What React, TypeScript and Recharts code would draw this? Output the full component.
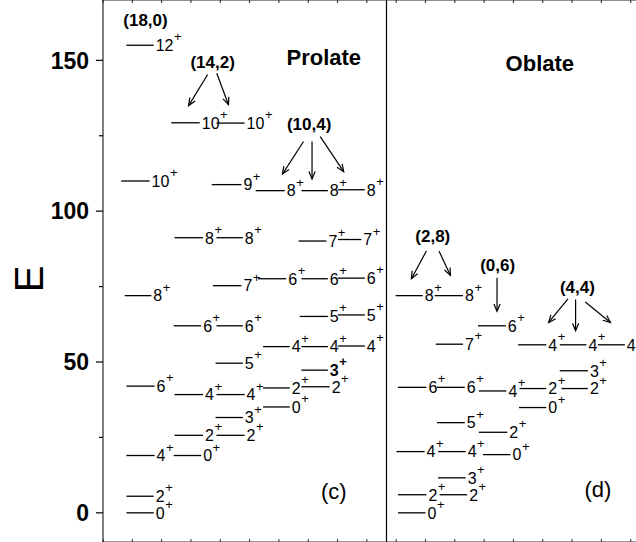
import React from 'react'
import { ScatterChart, Scatter, XAxis, YAxis, ReferenceLine } from 'recharts'

const FONT = '"Liberation Sans", Arial, Helvetica, sans-serif'

// levels: [line start, line end, E, spin]
// prolate (c)
const band180 = [
  [0.80, 1.73, 155, '12'],
  [0.62, 1.59, 110, '10'],
  [0.74, 1.65, 72, '8'],
  [0.80, 1.76, 42, '6'],
  [0.80, 1.76, 19, '4'],
  [0.80, 1.73, 5.5, '2'],
  [0.80, 1.73, 0, '0'],
]
const band142 = [
  [2.33, 3.30, 129.3, '10'],
  [3.87, 4.83, 129.2, '10'],
  [3.71, 4.72, 108.8, '9'],
  [2.44, 3.41, 91.2, '8'],
  [3.87, 4.77, 91.2, '8'],
  [3.75, 4.72, 75.3, '7'],
  [2.41, 3.35, 62, '6'],
  [3.87, 4.77, 62, '6'],
  [3.84, 4.77, 49.6, '5'],
  [2.44, 3.41, 39.2, '4'],
  [3.87, 4.83, 39.2, '4'],
  [3.84, 4.77, 31.6, '3'],
  [2.44, 3.41, 25.7, '2'],
  [3.87, 4.83, 25.7, '2'],
  [2.41, 3.35, 19, '0'],
]
const band104 = [
  [5.21, 6.20, 106.8, '8'],
  [6.77, 7.67, 106.8, '8'],
  [8.01, 8.93, 107.1, '8'],
  [6.67, 7.62, 90.1, '7'],
  [8.01, 8.81, 90.6, '7'],
  [5.29, 6.25, 77.6, '6'],
  [6.77, 7.67, 77.6, '6'],
  [8.01, 8.93, 77.8, '6'],
  [6.71, 7.67, 65.1, '5'],
  [8.01, 8.93, 65.6, '5'],
  [5.46, 6.37, 55.1, '4'],
  [6.77, 7.67, 55.1, '4'],
  [8.01, 8.93, 55.3, '4'],
  [6.77, 7.67, 47.3, '3'],
  [5.46, 6.37, 41.4, '2'],
  [6.77, 7.73, 41.8, '2'],
  [5.46, 6.37, 35.1, '0'],
]
// oblate (d)
const band28 = [
  [9.98, 10.91, 72, '8'],
  [11.31, 12.28, 72, '8'],
  [11.35, 12.28, 55.9, '7'],
  [10.06, 11.03, 41.6, '6'],
  [11.39, 12.34, 41.6, '6'],
  [11.39, 12.34, 29.9, '5'],
  [10.01, 10.97, 20.3, '4'],
  [11.43, 12.37, 20.3, '4'],
  [11.43, 12.37, 11.6, '3'],
  [10.06, 11.03, 6, '2'],
  [11.48, 12.42, 6, '2'],
  [10.06, 11.0, 0, '0'],
]
const band06 = [
  [12.79, 13.74, 62, '6'],
  [12.82, 13.76, 40.4, '4'],
  [12.82, 13.79, 26.7, '2'],
  [12.96, 13.9, 19.3, '0'],
]
const band44 = [
  [14.16, 15.12, 55.7, '4'],
  [15.58, 16.49, 55.7, '4'],
  [16.88, 17.8, 55.7, '4'],
  [15.58, 16.54, 47.1, '3'],
  [14.21, 15.12, 41.2, '2'],
  [15.64, 16.54, 41.2, '2'],
  [14.19, 15.12, 34.9, '0'],
]

// arrows: [x from, E from, x to, E to]
const arrows = [
  [3.57, 145.3, 2.92, 135],
  [3.88, 145.7, 4.28, 135.3],
  [6.84, 123.1, 6.12, 112.3],
  [7.13, 123.1, 7.13, 110.7],
  [7.41, 124.7, 8.21, 113.1],
  [11.03, 86.8, 10.52, 77.6],
  [11.46, 86.8, 11.85, 78.7],
  [13.44, 77.9, 13.44, 66.8],
  [15.86, 70.9, 15.2, 63.1],
  [16.12, 70.7, 16.12, 60.4],
  [16.45, 69.9, 17.31, 63.1],
]

const groupLabels = [
  [1.45, 163.4, '(18,0)'],
  [3.74, 149.6, '(14,2)'],
  [7.03, 129, '(10,4)'],
  [11.25, 91.8, '(2,8)'],
  [13.46, 82.3, '(0,6)'],
  [16.18, 74.9, '(4,4)'],
]
const panelTitles = [
  [7.53, 151, 'Prolate'],
  [14.9, 149, 'Oblate'],
]
const panelTags = [
  [7.87, 7.3, '(c)'],
  [16.88, 8, '(d)'],
]

const yTicks = [0, 25, 50, 75, 100, 125, 150]
const xTicks = Array.from({ length: 19 }, (_, i) => i)
const DIVIDER_X = 9.67

const allLevels = [...band180, ...band142, ...band104, ...band28, ...band06, ...band44].map((l, i) => ({
  id: i,
  x0: l[0] as number,
  x: l[1] as number,
  y: l[2] as number,
  j: l[3] as string,
  // the 3+ of the (10,4) band is printed in bold
  bold: l[3] === '3' && l[2] === 47.3,
}))

const toPoints = (rows: (string | number)[][]) => rows.map(r => ({ x: r[0] as number, y: r[1] as number, text: r[2] as string }))

const LevelLabel = (props: any) => {
  const { cx, cy, payload } = props
  return (
    <text x={cx + 2} y={cy} dy={5.8} fontSize={16} fontFamily={FONT}
      fontWeight={payload.bold ? 'bold' : 'normal'} fill="#000">
      {payload.j}
      <tspan dx={0.5} dy={-9.8} fontSize={13}>+</tspan>
    </text>
  )
}

const textShape = (size: number, weight: string) => (props: any) => (
  <text x={props.cx} y={props.cy} dy="0.36em" textAnchor="middle" fontSize={size}
    fontWeight={weight} fontFamily={FONT} fill="#000">
    {props.payload.text}
  </text>
)

const Arrow = (props: any) => {
  const { x1, y1, x2, y2 } = props
  const a = Math.atan2(y2 - y1, x2 - x1)
  const h = 8
  const s = 0.4
  return (
    <g>
      <line x1={x1} y1={y1} x2={x2} y2={y2} stroke="#000" strokeWidth={1.2} />
      <polyline
        points={`${x2 - h * Math.cos(a - s)},${y2 - h * Math.sin(a - s)} ${x2},${y2} ${x2 - h * Math.cos(a + s)},${y2 - h * Math.sin(a + s)}`}
        fill="none" stroke="#000" strokeWidth={1.2} />
    </g>
  )
}

const YTick = (props: any) => {
  const { x, y, payload } = props
  const major = payload.value % 50 === 0
  const axisX = x + 14
  return (
    <g>
      <line x1={axisX - (major ? 7 : 4)} x2={axisX} y1={y} y2={y} stroke="#000" strokeWidth={1.2} />
      {major && (
        <text x={x} y={y} dy="0.36em" textAnchor="end" fontSize={23} fontWeight="bold" fontFamily={FONT} fill="#000">
          {payload.value}
        </text>
      )}
    </g>
  )
}

export default function App() {
  return (
    <div style={{ position: 'absolute', left: 0, top: 0, width: 636, height: 542, background: '#fff' }}>
      <ScatterChart width={636} height={542} margin={{ top: 0, right: 0, bottom: 0, left: 0 }}>
        <XAxis type="number" dataKey="x" domain={[0, 18.18]} ticks={xTicks} allowDataOverflow
          height={1} mirror tickSize={3} tickFormatter={() => ''} stroke="#333" />
        <XAxis xAxisId="top" orientation="top" type="number" dataKey="x" domain={[0, 18.18]} ticks={xTicks}
          allowDataOverflow height={2} mirror tickSize={3} tickFormatter={() => ''} stroke="#222" />
        <YAxis type="number" dataKey="y" domain={[-9.67, 170]} ticks={yTicks} allowDataOverflow width={103}
          tickSize={6} tickMargin={8} tickLine={false} tick={<YTick />} stroke="#000"
          label={{
            content: ({ viewBox }: any) => {
              const cx = viewBox.x + 29
              const cy = viewBox.y + viewBox.height / 2 + 8
              return (
                <text x={cx} y={cy} dy="0.36em" textAnchor="middle" fontSize={40} fontFamily={FONT}
                  transform={`rotate(-90 ${cx} ${cy})`} fill="#000">E</text>
              )
            },
          }} />

        <ReferenceLine x={DIVIDER_X} stroke="#000" strokeWidth={1.2} />

        {allLevels.map(l => (
          <ReferenceLine key={'l' + l.id} segment={[{ x: l.x0, y: l.y }, { x: l.x, y: l.y }]}
            stroke="#000" strokeWidth={1.3} />
        ))}

        {arrows.map((a, i) => (
          <ReferenceLine key={'a' + i} segment={[{ x: a[0], y: a[1] }, { x: a[2], y: a[3] }]}
            shape={<Arrow />} />
        ))}

        <Scatter data={allLevels} shape={<LevelLabel />} isAnimationActive={false} />
        <Scatter data={toPoints(groupLabels)} shape={textShape(17, 'bold')} isAnimationActive={false} />
        <Scatter data={toPoints(panelTitles)} shape={textShape(22, 'bold')} isAnimationActive={false} />
        <Scatter data={toPoints(panelTags)} shape={textShape(22, 'normal')} isAnimationActive={false} />
      </ScatterChart>
    </div>
  )
}
